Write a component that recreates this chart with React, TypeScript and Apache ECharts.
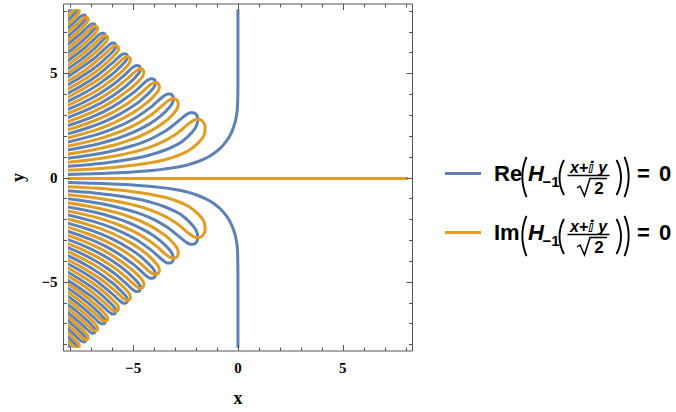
import React, { useEffect, useRef } from "react";
import * as echarts from "echarts";

const BLUE = "#5E81B5";
const ORANGE = "#E19C24";
const FRAME = "#555555";

// plot range (with padding) and the region in which contours were computed
const axisRange = [-8.32, 8.32];
const dataRange = [-8, 8];
const majorTicks = [-5, 0, 5];
const minorTicks = [-8, -7, -6, -4, -3, -2, -1, 1, 2, 3, 4, 6, 7, 8];

// Re(H_-1) = 0 : inner branch (upper half) and loops (upper half)
const reInner = [
  [-8.3, 0.189], [-7, 0.224], [-6, 0.262], [-5, 0.314], [-4, 0.393], [-3, 0.52], [-2.4, 0.65],
  [-1.9, 0.81], [-1.5, 0.99], [-1.22, 1.15], [-1.02, 1.3], [-0.79, 1.5], [-0.58, 1.75],
  [-0.41, 2.0], [-0.23, 2.4], [-0.09, 2.9], [-0.02, 3.5], [-0.004, 4.5], [-0.002, 8.5],
];
const reLoops = [
  [[-8.3, 0.568], [-7, 0.673], [-6, 0.785], [-5, 0.942], [-4.2, 1.122], [-3.5, 1.346], [-3, 1.571], [-2.6, 1.812], [-2.15, 2.25], [-1.95, 2.6], [-1.92, 2.84], [-1.95, 2.99], [-2.03, 3.09], [-2.15, 3.14], [-2.28, 3.13], [-2.45, 3.05], [-2.69, 2.87], [-3, 2.61], [-3.5, 2.244], [-4.2, 1.87], [-5, 1.571], [-6, 1.309], [-7, 1.122], [-8.3, 0.946]],
  [[-8.3, 1.325], [-7, 1.571], [-6, 1.833], [-5, 2.199], [-4.2, 2.618], [-3.7, 2.972], [-3.23, 3.44], [-3.11, 3.66], [-3.08, 3.81], [-3.1, 3.91], [-3.15, 3.99], [-3.23, 4.03], [-3.33, 4.03], [-3.46, 3.98], [-3.64, 3.85], [-3.95, 3.577], [-4.2, 3.366], [-5, 2.827], [-6, 2.356], [-7, 2.02], [-8.3, 1.703]],
  [[-8.3, 2.082], [-7, 2.468], [-6, 2.88], [-5, 3.456], [-4.5, 3.84], [-4.06, 4.28], [-3.96, 4.45], [-3.94, 4.57], [-3.95, 4.66], [-4, 4.72], [-4.06, 4.75], [-4.14, 4.76], [-4.25, 4.72], [-4.4, 4.62], [-4.7, 4.343], [-5, 4.084], [-6, 3.403], [-7, 2.917], [-8.3, 2.46]],
  [[-8.3, 2.839], [-7, 3.366], [-6, 3.927], [-5.2, 4.531], [-4.76, 4.98], [-4.67, 5.12], [-4.65, 5.22], [-4.66, 5.3], [-4.7, 5.35], [-4.75, 5.38], [-4.82, 5.39], [-4.92, 5.36], [-5.05, 5.27], [-5.3, 5.037], [-5.5, 4.855], [-6, 4.451], [-7, 3.815], [-8.3, 3.217]],
  [[-8.3, 3.596], [-7, 4.264], [-6, 4.974], [-5.8, 5.146], [-5.37, 5.58], [-5.29, 5.71], [-5.27, 5.8], [-5.28, 5.87], [-5.31, 5.91], [-5.36, 5.94], [-5.43, 5.95], [-5.51, 5.92], [-5.63, 5.84], [-5.8, 5.685], [-6, 5.498], [-7, 4.712], [-8.3, 3.974]],
  [[-8.3, 4.353], [-7, 5.161], [-6.3, 5.735], [-5.91, 6.13], [-5.84, 6.24], [-5.83, 6.32], [-5.84, 6.38], [-5.86, 6.43], [-5.91, 6.45], [-5.97, 6.46], [-6.04, 6.44], [-6.15, 6.36], [-6.35, 6.182], [-6.6, 5.95], [-7, 5.61], [-8.3, 4.731]],
  [[-8.3, 5.11], [-7.5, 5.655], [-6.8, 6.237], [-6.42, 6.63], [-6.35, 6.73], [-6.34, 6.81], [-6.34, 6.86], [-6.37, 6.9], [-6.41, 6.93], [-6.47, 6.93], [-6.54, 6.91], [-6.64, 6.85], [-6.85, 6.649], [-7.05, 6.461], [-7.6, 5.994], [-8.3, 5.488]],
  [[-8.3, 5.867], [-7.75, 6.283], [-7.25, 6.716], [-6.88, 7.09], [-6.82, 7.19], [-6.81, 7.26], [-6.82, 7.31], [-6.84, 7.35], [-6.88, 7.37], [-6.93, 7.38], [-7, 7.36], [-7.09, 7.29], [-7.28, 7.119], [-7.5, 6.912], [-8.3, 6.245]],
  [[-8.3, 6.624], [-7.7, 7.14], [-7.32, 7.52], [-7.27, 7.62], [-7.25, 7.68], [-7.26, 7.73], [-7.28, 7.77], [-7.32, 7.79], [-7.37, 7.79], [-7.43, 7.77], [-7.52, 7.72], [-7.7, 7.547], [-7.9, 7.357], [-8.3, 7.002]],
  [[-8.3, 7.381], [-8.1, 7.563], [-7.74, 7.93], [-7.68, 8.02], [-7.67, 8.08], [-7.67, 8.13], [-7.7, 8.16], [-7.73, 8.18], [-7.78, 8.19], [-7.84, 8.17], [-7.92, 8.12], [-8.3, 7.759]],
];

// Im(H_-1) = 0 : the real axis and loops (upper half)
const imAxis = [[-8.3, 0], [8.3, 0]];
const imLoops = [
  [[-8.3, 0.3785], [-7, 0.4488], [-6, 0.5236], [-5, 0.6283], [-4.2, 0.748], [-3.5, 0.8976], [-3, 1.0472], [-2.6, 1.208], [-2.2, 1.438], [-1.74, 1.87], [-1.58, 2.22], [-1.57, 2.47], [-1.62, 2.63], [-1.72, 2.75], [-1.84, 2.81], [-1.98, 2.81], [-2.15, 2.75], [-2.39, 2.58], [-2.7, 2.313], [-3, 2.09], [-3.5, 1.795], [-4.2, 1.496], [-5, 1.257], [-6, 1.047], [-7, 0.898], [-8.3, 0.757]],
  [[-8.3, 1.1355], [-7, 1.346], [-6, 1.571], [-5, 1.885], [-4.2, 2.244], [-3.5, 2.693], [-3.2, 2.955], [-2.99, 3.2], [-2.87, 3.41], [-2.85, 3.56], [-2.87, 3.67], [-2.93, 3.75], [-3.01, 3.8], [-3.11, 3.8], [-3.24, 3.76], [-3.42, 3.64], [-3.85, 3.264], [-4.2, 2.992], [-5, 2.513], [-6, 2.094], [-7, 1.795], [-8.3, 1.514]],
  [[-8.3, 1.8925], [-7, 2.244], [-6, 2.618], [-5, 3.1416], [-4.25, 3.696], [-3.87, 4.09], [-3.77, 4.26], [-3.75, 4.38], [-3.77, 4.47], [-3.81, 4.53], [-3.88, 4.57], [-3.96, 4.57], [-4.07, 4.54], [-4.22, 4.44], [-4.43, 4.25], [-4.65, 4.054], [-5.3, 3.557], [-6, 3.1416], [-7, 2.693], [-8.3, 2.271]],
  [[-8.3, 2.6495], [-7, 3.1416], [-6, 3.665], [-5, 4.398], [-4.59, 4.81], [-4.51, 4.96], [-4.49, 5.06], [-4.5, 5.13], [-4.54, 5.19], [-4.6, 5.22], [-4.67, 5.23], [-4.76, 5.2], [-4.89, 5.11], [-5.08, 4.943], [-5.3, 4.742], [-6, 4.189], [-7, 3.59], [-8.3, 3.028]],
  [[-8.3, 3.4065], [-7, 4.039], [-6.1, 4.635], [-5.6, 5.049], [-5.22, 5.44], [-5.15, 5.57], [-5.13, 5.66], [-5.14, 5.72], [-5.17, 5.77], [-5.22, 5.8], [-5.29, 5.81], [-5.37, 5.78], [-5.49, 5.7], [-5.68, 5.528], [-5.9, 5.325], [-6.8, 4.62], [-8.3, 3.785]],
  [[-8.3, 4.1635], [-7, 4.937], [-6.15, 5.619], [-5.78, 6.0], [-5.71, 6.11], [-5.7, 6.19], [-5.71, 6.25], [-5.74, 6.3], [-5.78, 6.32], [-5.84, 6.33], [-5.92, 6.31], [-6.02, 6.24], [-6.22, 6.059], [-6.45, 5.845], [-7.3, 5.164], [-8.3, 4.542]],
  [[-8.3, 4.9205], [-7.5, 5.445], [-6.7, 6.096], [-6.3, 6.51], [-6.23, 6.61], [-6.22, 6.69], [-6.22, 6.74], [-6.25, 6.78], [-6.3, 6.81], [-6.35, 6.81], [-6.42, 6.79], [-6.52, 6.73], [-6.7, 6.563], [-6.9, 6.374], [-7.6, 5.787], [-8.3, 5.299]],
  [[-8.3, 5.6775], [-7.7, 6.12], [-7.15, 6.591], [-6.77, 6.98], [-6.71, 7.08], [-6.7, 7.15], [-6.7, 7.2], [-6.73, 7.24], [-6.77, 7.26], [-6.82, 7.26], [-6.89, 7.25], [-6.98, 7.18], [-7.18, 6.999], [-7.4, 6.793], [-7.85, 6.403], [-8.3, 6.056]],
  [[-8.3, 6.4345], [-7.6, 7.027], [-7.22, 7.42], [-7.16, 7.51], [-7.14, 7.58], [-7.15, 7.62], [-7.18, 7.66], [-7.21, 7.68], [-7.26, 7.69], [-7.32, 7.67], [-7.41, 7.61], [-7.6, 7.439], [-7.8, 7.25], [-8.3, 6.813]],
  [[-8.3, 7.1915], [-8, 7.461], [-7.64, 7.83], [-7.58, 7.92], [-7.57, 7.98], [-7.57, 8.02], [-7.6, 8.06], [-7.63, 8.08], [-7.68, 8.09], [-7.74, 8.07], [-7.82, 8.02], [-8.05, 7.803], [-8.3, 7.57]],
];

const legendRows = [
  { head: "Re", color: BLUE },
  { head: "Im", color: ORANGE },
];

// frame geometry (pixels)
const FRAME_LEFT = 63.5;
const FRAME_TOP = 4;
const FRAME_SIZE = 349;

const mirror = (pts: number[][]) => pts.map(([x, y]) => [x, -y]);

function buildOption() {
  const span = axisRange[1] - axisRange[0];
  const pad = (FRAME_SIZE * (dataRange[0] - axisRange[0])) / span;
  const inner = (FRAME_SIZE * (dataRange[1] - dataRange[0])) / span;

  const contour = (data: number[][], color: string, z: number) => ({
    type: "line",
    xAxisIndex: 1,
    yAxisIndex: 1,
    data,
    showSymbol: false,
    symbol: "none",
    smooth: 0.5,
    clip: true,
    silent: true,
    z,
    lineStyle: { color, width: 3 },
  });

  const series: any[] = [];
  [reInner, mirror(reInner)].forEach((d) => series.push(contour(d, BLUE, 2)));
  reLoops.forEach((l) => {
    series.push(contour(l, BLUE, 2));
    series.push(contour(mirror(l), BLUE, 2));
  });
  series.push(contour(imAxis, ORANGE, 3));
  imLoops.forEach((l) => {
    series.push(contour(l, ORANGE, 3));
    series.push(contour(mirror(l), ORANGE, 3));
  });

  const tickData = [
    ...majorTicks.map((v) => [v, 0, 6]),
    ...minorTicks.map((v) => [v, 0, 3.5]),
    ...majorTicks.map((v) => [v, 1, 6]),
    ...minorTicks.map((v) => [v, 1, 3.5]),
  ];
  series.push({
    type: "custom",
    xAxisIndex: 0,
    yAxisIndex: 0,
    data: tickData,
    silent: true,
    z: 10,
    renderItem: (params: any, api: any) => {
      const v = api.value(0);
      const dir = api.value(1);
      const len = api.value(2);
      const cs = params.coordSys;
      const st = { stroke: FRAME, lineWidth: 1 };
      if (dir === 0) {
        const px = Math.round(api.coord([v, 0])[0]) + 0.5;
        return {
          type: "group",
          children: [
            { type: "line", shape: { x1: px, y1: cs.y + cs.height, x2: px, y2: cs.y + cs.height - len }, style: st },
            { type: "line", shape: { x1: px, y1: cs.y, x2: px, y2: cs.y + len }, style: st },
          ],
        };
      }
      const py = Math.round(api.coord([0, v])[1]) + 0.5;
      return {
        type: "group",
        children: [
          { type: "line", shape: { x1: cs.x, y1: py, x2: cs.x + len, y2: py }, style: st },
          { type: "line", shape: { x1: cs.x + cs.width, y1: py, x2: cs.x + cs.width - len, y2: py }, style: st },
        ],
      };
    },
  });

  const fmt = (v: number) => {
    const r = Math.round(v);
    if (Math.abs(v - r) > 1e-6 || r % 5 !== 0) return "";
    return r < 0 ? "\u2212" + -r : String(r);
  };
  const labelStyle = { color: "#000", fontFamily: "'Liberation Serif', serif", fontWeight: "bold", fontSize: 15 };
  const nameStyle = { color: "#000", fontFamily: "'Liberation Serif', serif", fontWeight: "bold", fontSize: 18 };

  // legend graphics
  const graphic: any[] = [];
  const sans = "'Liberation Sans', 'DejaVu Sans', sans-serif";
  const arcParen = (cx: number, cy: number, r: number, half: number, left: boolean) => ({
    type: "arc",
    shape: {
      cx, cy, r,
      startAngle: left ? Math.PI - half : -half,
      endAngle: left ? Math.PI + half : half,
      clockwise: true,
    },
    style: { stroke: "#000", lineWidth: 1.9, fill: null },
  });
  legendRows.forEach((row, i) => {
    const dy = i * 59;
    graphic.push(
      { type: "line", shape: { x1: 445, y1: 173.5 + dy, x2: 481, y2: 173.5 + dy }, style: { stroke: row.color, lineWidth: 3 } },
      { type: "text", x: 494, y: 173 + dy, style: { text: row.head, font: `bold 22px ${sans}`, fill: "#000", textAlign: "left", textVerticalAlign: "middle" } },
      arcParen(574.5, 177 + dy, 52, 0.395, true),
      { type: "text", x: 528, y: 173 + dy, style: { text: "H", font: `italic bold 22px ${sans}`, fill: "#000", textAlign: "left", textVerticalAlign: "middle" } },
      { type: "text", x: 542.5, y: 181 + dy, style: { text: "\u22121", font: `bold 15px ${sans}`, fill: "#000", textAlign: "left", textVerticalAlign: "middle" } },
      arcParen(595.8, 177.5 + dy, 36.3, 0.503, true),
      { type: "text", x: 588.5, y: 167.5 + dy, style: { text: "x+\u2148 y", font: `italic bold 16px ${sans}`, fill: "#000", textAlign: "center", textVerticalAlign: "middle" } },
      { type: "line", shape: { x1: 567.5, y1: 175.5 + dy, x2: 609.5, y2: 175.5 + dy }, style: { stroke: "#000", lineWidth: 1.3 } },
      { type: "polyline", shape: { points: [[577, 188 + dy], [580, 186 + dy], [584.5, 196 + dy], [590, 178.5 + dy], [607, 178.5 + dy]] }, style: { stroke: "#000", lineWidth: 1.5, fill: null } },
      { type: "text", x: 599, y: 188 + dy, style: { text: "2", font: `bold 17px ${sans}`, fill: "#000", textAlign: "center", textVerticalAlign: "middle" } },
      arcParen(584.7, 177.5 + dy, 36.3, 0.503, false),
      arcParen(576.5, 177 + dy, 52, 0.395, false),
      { type: "text", x: 637, y: 173 + dy, style: { text: "=", font: `bold 22px ${sans}`, fill: "#000", textAlign: "left", textVerticalAlign: "middle" } },
      { type: "text", x: 659, y: 173 + dy, style: { text: "0", font: `bold 22px ${sans}`, fill: "#000", textAlign: "left", textVerticalAlign: "middle" } }
    );
  });

  return {
    animation: false,
    backgroundColor: "#fff",
    grid: [
      { left: FRAME_LEFT, top: FRAME_TOP, width: FRAME_SIZE, height: FRAME_SIZE, show: true, borderColor: FRAME, borderWidth: 1, backgroundColor: "transparent" },
      { left: FRAME_LEFT + pad, top: FRAME_TOP + pad, width: inner, height: inner },
    ],
    xAxis: [
      {
        gridIndex: 0, type: "value", min: axisRange[0], max: axisRange[1], splitNumber: 3,
        axisLine: { show: false }, axisTick: { show: false }, splitLine: { show: false },
        axisLabel: { ...labelStyle, margin: 9, formatter: fmt },
        name: "x", nameLocation: "middle", nameGap: 38, nameTextStyle: nameStyle,
      },
      { gridIndex: 1, type: "value", min: dataRange[0], max: dataRange[1], show: false },
    ],
    yAxis: [
      {
        gridIndex: 0, type: "value", min: axisRange[0], max: axisRange[1], splitNumber: 3,
        axisLine: { show: false }, axisTick: { show: false }, splitLine: { show: false },
        axisLabel: { ...labelStyle, margin: 6, formatter: fmt },
        name: "y", nameLocation: "middle", nameRotate: 90, nameGap: 37, nameTextStyle: nameStyle,
      },
      { gridIndex: 1, type: "value", min: dataRange[0], max: dataRange[1], show: false },
    ],
    series,
    graphic,
  };
}

export default function App() {
  const ref = useRef<HTMLDivElement>(null);
  useEffect(() => {
    if (!ref.current) return;
    const chart = echarts.init(ref.current, undefined, { renderer: "svg" });
    chart.setOption(buildOption() as any);
    return () => chart.dispose();
  }, []);
  return (
    <div
      ref={ref}
      style={{ position: "fixed", left: 0, top: 0, width: 676, height: 412, background: "#fff" }}
    />
  );
}
